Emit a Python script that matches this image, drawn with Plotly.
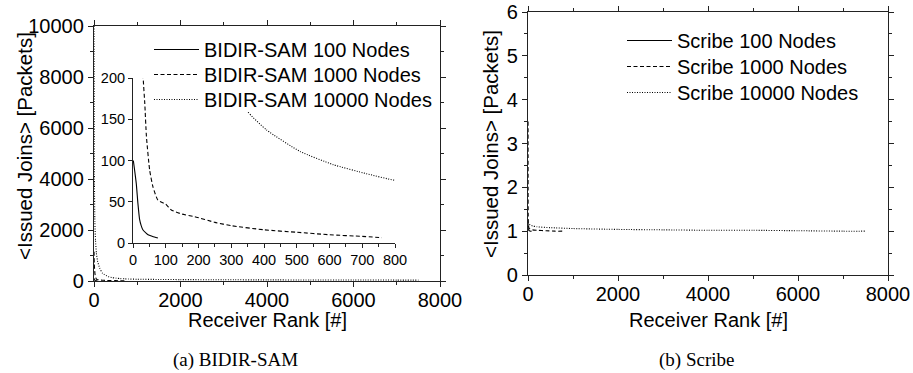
import plotly.graph_objects as go

W, H = 913, 373

# ---------------- data ----------------
bidir_100_x = [1, 5, 10, 15, 20, 25, 30, 40, 46, 60, 76]
bidir_100_y = [100, 88, 72, 48, 29, 21, 16, 12, 10, 8, 6]

bidir_1000_x = [1, 3, 6, 10, 15, 20, 25, 31, 36, 41, 51, 61, 76, 100, 117, 150, 188,
                250, 300, 400, 500, 600, 700, 760]
bidir_1000_y = [1150, 900, 700, 550, 420, 320, 250, 200, 169, 129, 88, 68, 52, 47, 40,
                35, 32, 25, 21, 16, 13, 10, 8, 6.5]

bidir_10000_x = [1, 3, 6, 10, 20, 35, 55, 80, 130, 200, 347, 408, 510, 611, 713, 800,
                 1000, 1500, 2000, 3000, 4000, 5000, 6000, 7000, 7500]
bidir_10000_y = [10000, 8000, 5500, 3800, 2300, 1600, 1100, 800, 510, 300, 161, 137,
                 111, 95, 84, 76, 70, 60, 55, 48, 44, 40, 38, 36, 35]

scribe_100_x = [1, 2, 3, 5, 8, 12, 20, 30, 45, 60, 80]
scribe_100_y = [1.18, 1.12, 1.09, 1.06, 1.04, 1.03, 1.02, 1.01, 1.005, 1.0, 1.0]

scribe_1000_x = [1, 2, 4, 8, 15, 30, 60, 100, 200, 400, 600, 760]
scribe_1000_y = [3.5, 2.0, 1.4, 1.2, 1.1, 1.06, 1.04, 1.03, 1.02, 1.01, 1.0, 1.0]

scribe_10000_x = [1, 10, 50, 100, 200, 500, 1000, 2000, 3000, 4000, 5000, 6000, 7000, 7500]
scribe_10000_y = [1.2, 1.17, 1.14, 1.12, 1.1, 1.08, 1.06, 1.04, 1.03, 1.02, 1.02, 1.01,
                  1.0, 1.0]

bidir_names = ["BIDIR-SAM 100 Nodes", "BIDIR-SAM 1000 Nodes", "BIDIR-SAM 10000 Nodes"]
scribe_names = ["Scribe 100 Nodes", "Scribe 1000 Nodes", "Scribe 10000 Nodes"]
x_title = "Receiver Rank [#]"
y_title = "&lt;Issued Joins&gt; [Packets]"
captions = ["(a) BIDIR-SAM", "(b) Scribe"]

# ---------------- styling ----------------
DASHES = ["solid", "4px,2.5px", "1px,1.5px"]
SANS = "Liberation Sans, Arial, sans-serif"
SERIF = "Liberation Serif, Times New Roman, serif"
LEG_OFFSET = 19  # px between legend top and its row centre


def px_x(p):
    return p / W


def px_y(p):
    return (H - p) / H


def line_style(i):
    return dict(color="black", width=1.1, dash=DASHES[i], shape="spline", smoothing=0.5)


fig = go.Figure()

bidir = [(bidir_100_x, bidir_100_y), (bidir_1000_x, bidir_1000_y), (bidir_10000_x, bidir_10000_y)]
scribe = [(scribe_100_x, scribe_100_y), (scribe_1000_x, scribe_1000_y), (scribe_10000_x, scribe_10000_y)]

legend_rows_left = [49, 74, 99]
legend_rows_right = [40, 66, 92]
legends = {}

for i, (xs, ys) in enumerate(bidir):
    lg = "legend" if i == 0 else f"legend{i + 1}"
    fig.add_trace(go.Scatter(x=xs, y=ys, mode="lines", name=bidir_names[i],
                             line=line_style(i), xaxis="x", yaxis="y", legend=lg))
    legends[lg] = dict(x=px_x(149), y=px_y(legend_rows_left[i] - LEG_OFFSET))
for i, (xs, ys) in enumerate(bidir):
    fig.add_trace(go.Scatter(x=xs, y=ys, mode="lines", name=bidir_names[i], showlegend=False,
                             line=line_style(i), xaxis="x2", yaxis="y2"))
for i, (xs, ys) in enumerate(scribe):
    lg = f"legend{i + 4}"
    fig.add_trace(go.Scatter(x=xs, y=ys, mode="lines", name=scribe_names[i],
                             line=line_style(i), xaxis="x3", yaxis="y3", legend=lg))
    legends[lg] = dict(x=px_x(622), y=px_y(legend_rows_right[i] - LEG_OFFSET))

for k, v in legends.items():
    v.update(xanchor="left", yanchor="top", borderwidth=0, itemwidth=45,
             bgcolor="rgba(255,255,255,0)",
             font=dict(family=SANS, size=20, color="black"))

box_axis = dict(showline=True, linecolor="#222", linewidth=1.3, mirror="allticks",
                ticks="outside", ticklen=5, tickwidth=1.2, tickcolor="#222",
                showgrid=False, zeroline=False, tickformat="d", automargin=False,
                tickfont=dict(family=SANS, size=20, color="black"))

inset_axis = dict(showline=True, linecolor="#222", linewidth=1.1, mirror=False,
                  ticks="outside", ticklen=4, tickwidth=1, tickcolor="#222",
                  showgrid=False, zeroline=False, tickformat="d", automargin=False,
                  tickfont=dict(family=SANS, size=14.5, color="black"))

fig.update_layout(
    width=W, height=H,
    margin=dict(l=0, r=0, t=0, b=0, autoexpand=False),
    paper_bgcolor="white", plot_bgcolor="rgba(0,0,0,0)",
    xaxis=dict(domain=[px_x(94), px_x(440)], range=[0, 8000], dtick=2000, anchor="y",
               ticklabelstandoff=-4,
               minor=dict(dtick=1000, ticks="outside", ticklen=3, tickcolor="#222"), **box_axis),
    yaxis=dict(domain=[px_y(281), px_y(26)], range=[0, 10000], dtick=2000, anchor="x",
               minor=dict(dtick=1000, ticks="outside", ticklen=3, tickcolor="#222"), **box_axis),
    xaxis2=dict(domain=[px_x(133), px_x(395)], range=[0, 800], dtick=100, anchor="y2",
                minor=dict(dtick=50, ticks="outside", ticklen=2.5, tickcolor="#222"), **inset_axis),
    yaxis2=dict(domain=[px_y(243), px_y(78)], range=[0, 200], dtick=50, anchor="x2",
                **inset_axis),
    xaxis3=dict(domain=[px_x(528), px_x(888)], range=[0, 8000], dtick=2000, anchor="y3",
                ticklabelstandoff=-4,
                minor=dict(dtick=1000, ticks="outside", ticklen=3, tickcolor="#222"), **box_axis),
    yaxis3=dict(domain=[px_y(275), px_y(12)], range=[0, 6], dtick=1, anchor="x3",
                minor=dict(dtick=0.5, ticks="outside", ticklen=3, tickcolor="#222"), **box_axis),
    showlegend=True,
    **legends,
)

# white backing behind the left legend (hides the inset curve under it, as in the original)
fig.add_shape(type="rect", xref="paper", yref="paper", layer="above",
              x0=px_x(150), x1=px_x(432), y0=px_y(112), y1=px_y(36),
              fillcolor="white", line=dict(width=0))

annots = [
    dict(text=x_title, x=px_x(267), y=px_y(320), font=dict(family=SANS, size=20)),
    dict(text=x_title, x=px_x(708), y=px_y(320), font=dict(family=SANS, size=20)),
    dict(text=y_title, x=px_x(24), y=px_y(146), textangle=-90, font=dict(family=SANS, size=20.5)),
    dict(text=y_title, x=px_x(490), y=px_y(144), textangle=-90, font=dict(family=SANS, size=20.5)),
    dict(text=captions[0], x=px_x(235), y=px_y(360), font=dict(family=SERIF, size=19)),
    dict(text=captions[1], x=px_x(696), y=px_y(360), font=dict(family=SERIF, size=19)),
]
for a in annots:
    a.update(xref="paper", yref="paper", showarrow=False, xanchor="center", yanchor="middle")
    a["font"]["color"] = "black"
    fig.add_annotation(**a)

fig.write_html("out.html", config={"displayModeBar": False},
               post_script="document.body.style.margin='0';")
